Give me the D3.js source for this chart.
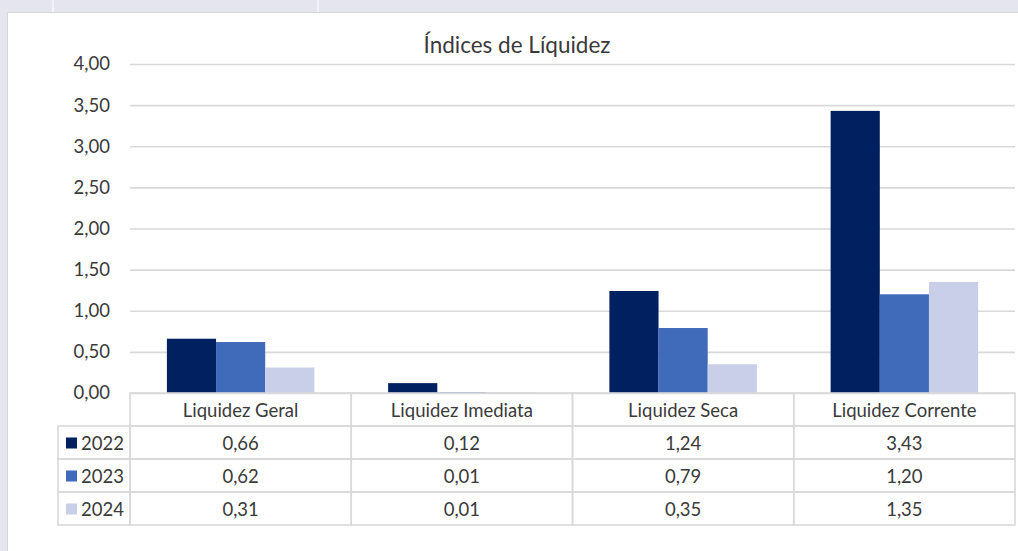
<!DOCTYPE html>
<html>
<head>
<meta charset="utf-8">
<script src="https://cdn.jsdelivr.net/npm/d3@7"></script>
<style>
  body { margin: 0; background: #e5e5ef; }
  svg { display: block; }
  text { font-family: Lato, "Open Sans", sans-serif; fill: #3a3a3a; }
</style>
</head>
<body>
<svg id="chart" width="1018" height="551"></svg>
<script>
// chart data
const categories = ["Liquidez Geral", "Liquidez Imediata", "Liquidez Seca", "Liquidez Corrente"];
const years = ["2022", "2023", "2024"];
const values2022 = [0.66, 0.12, 1.24, 3.43];
const values2023 = [0.62, 0.01, 0.79, 1.20];
const values2024 = [0.31, 0.01, 0.35, 1.35];
const yTicks = [0, 0.5, 1, 1.5, 2, 2.5, 3, 3.5, 4];
const colors = ["#00205f", "#406aba", "#c9cfe8"];

const series = [values2022, values2023, values2024];
const fmt = v => d3.format(".2f")(v).replace(".", ",");
const fontSize = "18.5px";

const svg = d3.select("#chart");

// faint background stripes behind the chart box
svg.append("line").attr("x1", 53).attr("x2", 53).attr("y1", 0).attr("y2", 12)
    .attr("stroke", "#f2f2f7").attr("stroke-width", 2);
svg.append("line").attr("x1", 318).attr("x2", 318).attr("y1", 0).attr("y2", 12)
    .attr("stroke", "#f2f2f7").attr("stroke-width", 2);

// white chart area
svg.append("rect")
    .attr("x", 7.5).attr("y", 12.5)
    .attr("width", 1030).attr("height", 560)
    .attr("fill", "#fff")
    .attr("stroke", "#d6d6d6");

const margin = { left: 130, right: 1015, top: 64, bottom: 393 };

const x = d3.scaleBand()
    .domain(categories)
    .range([margin.left, margin.right]);

const y = d3.scaleLinear()
    .domain([0, 4])
    .range([margin.bottom, margin.top]);

// inner band for bars (Excel gap width ~150%)
const xi = d3.scaleBand()
    .domain(years)
    .range([0, x.bandwidth()])
    .paddingOuter(0.75)
    .paddingInner(0);

// title
svg.append("text")
    .attr("x", 517).attr("y", 53)
    .attr("text-anchor", "middle")
    .style("font-size", "22.5px")
    .text("Índices de Líquidez");

// grid + y axis
const yAxis = svg.append("g")
    .attr("transform", `translate(${margin.left},0)`)
    .call(d3.axisLeft(y).tickValues(yTicks).tickFormat(fmt)
        .tickSize(-(margin.right - margin.left)).tickPadding(20));
yAxis.select(".domain").remove();
yAxis.selectAll(".tick line").attr("stroke", "#d9d9d9").attr("stroke-width", 1.6);
yAxis.selectAll(".tick text").style("font-size", fontSize).style("fill", "#3a3a3a");

// bars
years.forEach((yr, si) => {
    svg.append("g")
        .selectAll("rect")
        .data(categories)
        .join("rect")
        .attr("x", d => x(d) + xi(yr))
        .attr("y", (d, i) => y(series[si][i]))
        .attr("width", xi.bandwidth())
        .attr("height", (d, i) => y(0) - y(series[si][i]))
        .attr("fill", colors[si]);
});

// data table
const rowH = 33;
const tableTop = margin.bottom;
const legendLeft = 58;
const lineColor = "#d9d9d9";
const table = svg.append("g");

// header cells
categories.forEach(c => {
    table.append("rect")
        .attr("x", x(c)).attr("y", tableTop)
        .attr("width", x.bandwidth()).attr("height", rowH)
        .attr("fill", "none").attr("stroke", lineColor).attr("stroke-width", 1.6);
    table.append("text")
        .attr("x", x(c) + x.bandwidth() / 2)
        .attr("y", tableTop + rowH / 2 + 7)
        .attr("text-anchor", "middle")
        .style("font-size", fontSize)
        .text(c);
});

// series rows
years.forEach((yr, si) => {
    const ry = tableTop + rowH * (si + 1);
    table.append("rect")
        .attr("x", legendLeft).attr("y", ry)
        .attr("width", margin.left - legendLeft).attr("height", rowH)
        .attr("fill", "none").attr("stroke", lineColor).attr("stroke-width", 1.6);
    table.append("rect")
        .attr("x", 66).attr("y", ry + rowH / 2 - 5)
        .attr("width", 11).attr("height", 11)
        .attr("fill", colors[si]);
    table.append("text")
        .attr("x", 81).attr("y", ry + rowH / 2 + 7)
        .style("font-size", fontSize)
        .text(yr);
    categories.forEach((c, ci) => {
        table.append("rect")
            .attr("x", x(c)).attr("y", ry)
            .attr("width", x.bandwidth()).attr("height", rowH)
            .attr("fill", "none").attr("stroke", lineColor).attr("stroke-width", 1.6);
        table.append("text")
            .attr("x", x(c) + x.bandwidth() / 2)
            .attr("y", ry + rowH / 2 + 7)
            .attr("text-anchor", "middle")
            .style("font-size", fontSize)
            .text(fmt(series[si][ci]));
    });
});
</script>
</body>
</html>
